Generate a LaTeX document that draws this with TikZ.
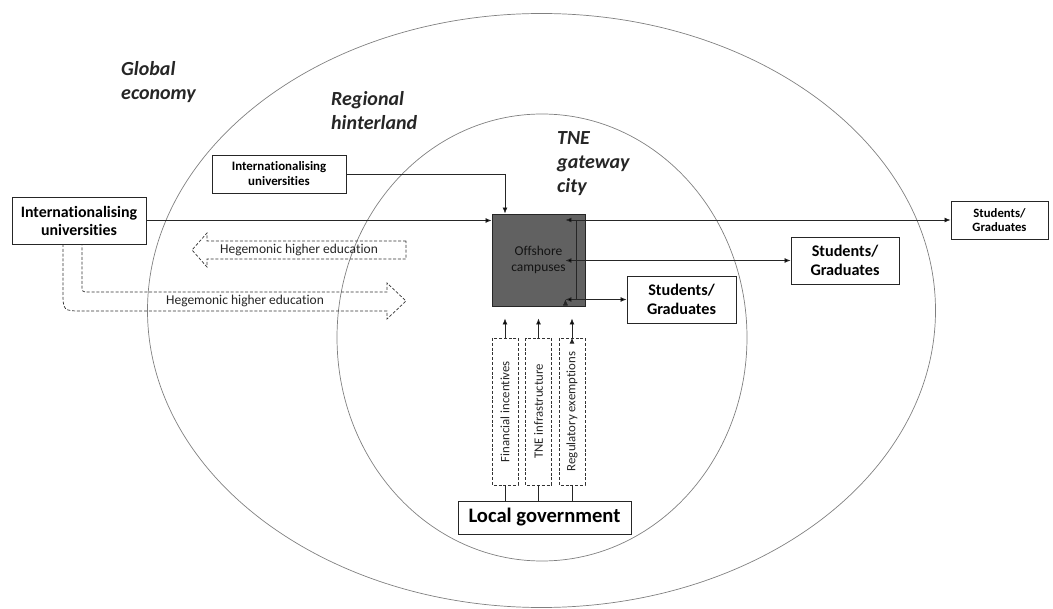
\documentclass[tikz,border=0pt]{standalone}
\usepackage{fontspec}
\setmainfont{Carlito}[Ligatures=NoCommon]
\usetikzlibrary{arrows.meta,positioning}

\begin{document}
\begin{tikzpicture}[x=1pt,y=-1pt,>={Latex[length=6pt,width=5pt]},
  box/.style={draw=black!85,line width=0.9pt,fill=white,align=center,inner sep=0pt,font=\bfseries},
  zone/.style={font=\fontsize{20}{24}\selectfont\bfseries\itshape,align=left,anchor=north west,inner sep=0pt,text=black!85},
  lever/.style={draw=black!80,line width=0.7pt,dash pattern=on 3pt off 1.8pt,inner sep=0pt,minimum width=147,minimum height=26,rotate=90,font=\fontsize{12.8}{15}\selectfont,text=black!85},
  dashbox/.style={draw=black!80,line width=0.7pt,dash pattern=on 3pt off 1.8pt},
  heg/.style={font=\fontsize{13.5}{15}\selectfont,text=black!85,inner sep=0pt},
  link/.style={draw=black!85,line width=0.8pt}]

    \useasboundingbox (0,0) rectangle (1053,609);

    % The zones
	\draw[black!50,line width=0.7pt] (541.5,310.5) ellipse [x radius=394pt, y radius=297pt];
	\draw[black!50,line width=0.7pt] (542,337.5) ellipse [x radius=205pt, y radius=223.5pt];
	\node [zone] at (121,61) (global) {Global\\economy};
	\node [zone] at (331,91) (region) {Regional\\hinterland};
	\node [zone] at (557,131) (city) {TNE\\gateway\\city};

    % Hegemonic higher education
	\draw[dashbox] (406,241) -- (207,241) -- (207,233) -- (192,250) -- (207,267) -- (207,259) -- (406,259) -- cycle;
	\node [heg] at (299,250) (hegL) {Hegemonic higher education};
	\draw[dashbox] (63,244) -- (63,291) .. controls (63,311) .. (83,311) -- (387,311) -- (387,319)
	  -- (406,301) -- (387,283) -- (387,292) -- (89,292) .. controls (82,292) .. (82,285) -- (82,244);
	\node [heg] at (245,301) (hegR) {Hegemonic higher education};

    % The graph
	\node [box,minimum width=134,minimum height=47,font=\fontsize{15.9}{18}\selectfont\bfseries] at (79,220.5) (uniL) {Internationalising\\universities};
	\node [box,minimum width=134,minimum height=38,font=\fontsize{12.9}{15}\selectfont\bfseries] at (279,174) (uniT) {Internationalising\\universities};
	\node [box,fill=black!62,minimum width=93,minimum height=92,font=\fontsize{13.5}{16}\selectfont\mdseries,text=black!92] at (538.5,260) (off) {Offshore\\campuses};
	\node [box,minimum width=109,minimum height=47,font=\fontsize{16.2}{19}\selectfont\bfseries] at (681.5,299.5) (stuB) {Students/\\Graduates};
	\node [box,minimum width=108,minimum height=47,font=\fontsize{16.2}{19}\selectfont\bfseries] at (845,260.5) (stuM) {Students/\\Graduates};
	\node [box,minimum width=97,minimum height=38,font=\fontsize{12.7}{14.5}\selectfont\bfseries] at (999.5,220) (stuR) {Students/\\Graduates};
	\node [box,minimum width=173,minimum height=33,font=\fontsize{20.6}{23}\selectfont\bfseries] at (544.5,517.5) (gov) {Local government};
	\node [lever] at (505,411.5) (fin) {Financial incentives};
	\node [lever] at (538.5,411.5) (infra) {TNE infrastructure};
	\node [lever] at (572,411.5) (reg) {Regulatory exemptions};

	% Graph edges
	\path[link,->]
	(uniL.east) edge (off.west |- uniL.east)
	(uniT.east) edge[-] ([xshift=-33.5pt]off.north |- uniT.east)
	([xshift=-33.5pt]off.north |- uniT.east) edge ([xshift=-33.5pt]off.north)
	(fin.east) edge[shorten >=12pt] (fin.east |- off.south)
	(infra.east) edge[shorten >=12pt] (infra.east |- off.south)
	(reg.east) edge[shorten >=12pt] (reg.east |- off.south);
	\path[link,<->]
	([xshift=-20pt]off.east |- stuR.west) edge (stuR.west)
	([xshift=-20pt]off.east |- stuM.west) edge (stuM.west)
	([xshift=-20pt]off.east |- stuB.west) edge (stuB.west);
	\path[link]
	([xshift=-9pt]off.east |- stuR.west) edge ([xshift=-9pt]off.east |- stuB.west)
	(fin.west) edge (fin.west |- gov.north)
	(infra.west) edge (infra.west |- gov.north)
	(reg.west) edge (reg.west |- gov.north);

\end{tikzpicture}
\end{document}
